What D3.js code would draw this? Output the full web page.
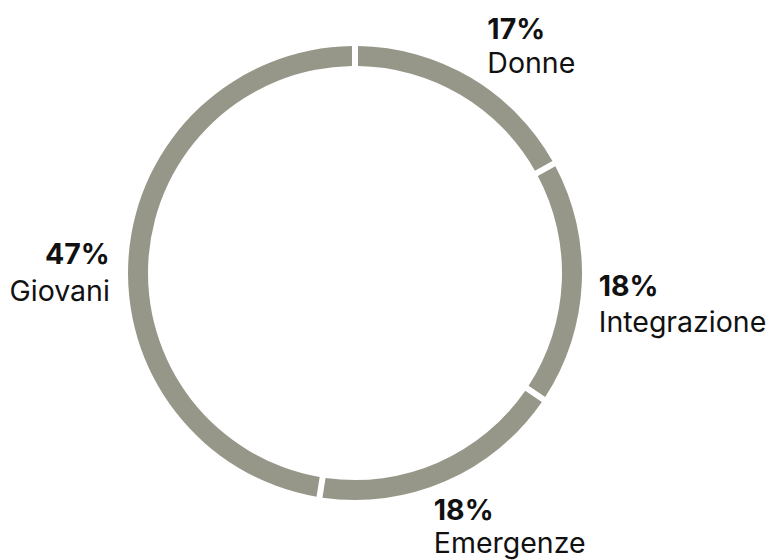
<!DOCTYPE html>
<html>
  <head>
    <meta charset="UTF-8">
    <style>
      body {
        margin: 0;
        background: white;
        font-family: Inter, "Noto Sans", sans-serif;
      }
      .pct { font-weight: 700; }
      .name { font-weight: 400; }
    </style>
    <script src="https://cdn.jsdelivr.net/npm/d3@7"></script>
  </head>
  <body>
    <svg id="Donut"></svg>
    <script>
      let categories = ['Donne', 'Integrazione', 'Emergenze', 'Giovani'];
      let values = [17, 17.4, 18.1, 47.5];
      let valueLabels = ['17%', '18%', '18%', '47%'];

      function getConfig() {
        let width = 769;
        let height = 560;
        let cx = 355;
        let cy = 273;
        let outer = 227;
        let inner = 207;
        let container = d3.select('#Donut')
          .attr('width', width)
          .attr('height', height);
        return {width, height, cx, cy, outer, inner, container};
      }

      // tweak offsets per label so they sit like the original
      let labelOffsets = [
        {dx: -1, dy: -9, gap: 34},
        {dx: -18, dy: 11, gap: 36},
        {dx: -26, dy: 7, gap: 33},
        {dx: 16, dy: 12, gap: 37}
      ];

      function drawDonut() {
        let config = getConfig();
        let {cx, cy, outer, inner, container} = config;

        let data = categories.map((c, i) => ({name: c, value: values[i], label: valueLabels[i]}));

        let pie = d3.pie()
          .value(d => d.value)
          .sort(null);

        let arcs = pie(data);

        let arc = d3.arc()
          .innerRadius(inner)
          .outerRadius(outer)
          .padRadius((inner + outer) / 2)
          .padAngle(6 / ((inner + outer) / 2));

        let g = container.append('g')
          .attr('transform', `translate(${cx}, ${cy})`);

        g.selectAll('path')
          .data(arcs)
          .enter()
          .append('path')
          .attr('d', arc)
          .attr('fill', '#979789');

        let labelRadius = 262;
        let labels = g.selectAll('.label')
          .data(arcs)
          .enter()
          .append('text')
          .attr('class', 'label')
          .attr('text-anchor', d => (d.startAngle + d.endAngle) / 2 > Math.PI ? 'end' : 'start')
          .attr('font-size', 28.5)
          .attr('fill', '#111');

        labels.each(function(d, i) {
          let mid = (d.startAngle + d.endAngle) / 2;
          let off = labelOffsets[i];
          let x = labelRadius * Math.sin(mid) + off.dx;
          let y = -labelRadius * Math.cos(mid) + off.dy;
          let t = d3.select(this);
          t.append('tspan')
            .attr('class', 'pct')
            .attr('x', x)
            .attr('y', y)
            .text(d.data.label);
          t.append('tspan')
            .attr('class', 'name')
            .attr('x', x)
            .attr('dy', off.gap)
            .text(d.data.name);
        });
      }

      drawDonut();
    </script>
  </body>
</html>
